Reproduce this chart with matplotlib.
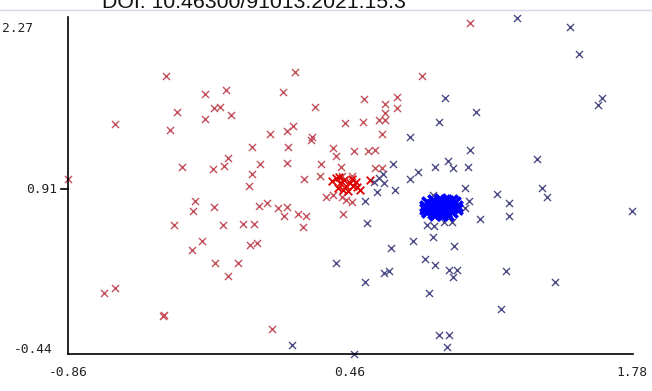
import matplotlib
matplotlib.use("Agg")
import matplotlib.pyplot as plt
from matplotlib.lines import Line2D

# scattered red instances
red_x = [-0.860, -0.640, -0.401, -0.350, -0.383, -0.219, -0.120, -0.177, -0.149, -0.097,
         -0.219, -0.326, -0.181, -0.130, -0.111, 0.001, 0.001, -0.013, 0.039, 0.086,
         0.165, 0.193, 0.146, 0.203, 0.170, 0.165, 0.245, 0.282, 0.278, 0.296,
         0.324, 0.320, 0.381, 0.395, 0.479, 0.544, 0.577, 0.418, 0.577, 0.610,
         0.526, 0.624, 0.680, 0.680, 0.624, 0.624, 0.596, 0.521, 0.437, 0.610,
         0.797, 1.022, 0.423, 0.469, 0.348, 0.381, 0.423, 0.441, 0.469, 0.427,
         0.217, 0.254, 0.240, 0.034, 0.072, 0.123, 0.165, 0.151, 0.011, -0.008,
         0.025, 0.095, -0.266, -0.275, -0.177, -0.364, -0.134, -0.041, -0.233, -0.280,
         -0.172, -0.064, -0.111, -0.692, -0.640, -0.415, -0.411]
red_y = [0.995, 1.460, 1.865, 1.561, 1.409, 1.713, 1.747, 1.595, 1.603, 1.536,
         1.502, 1.097, 1.080, 1.105, 1.173, 1.265, 1.038, 0.936, 1.122, 1.375,
         1.400, 1.443, 1.730, 1.899, 1.265, 1.130, 0.995, 1.350, 1.325, 1.603,
         1.122, 1.021, 1.257, 1.189, 1.232, 1.232, 1.240, 1.097, 1.088, 1.088,
         1.671, 1.628, 1.688, 1.595, 1.553, 1.493, 1.493, 1.477, 1.468, 1.375,
         1.865, 2.312, 1.021, 1.021, 0.843, 0.860, 0.843, 0.818, 0.801, 0.700,
         0.700, 0.683, 0.590, 0.767, 0.793, 0.750, 0.759, 0.683, 0.615, 0.438,
         0.455, -0.271, 0.810, 0.725, 0.759, 0.607, 0.607, 0.615, 0.472, 0.396,
         0.286, 0.286, 0.176, 0.033, 0.075, -0.161, -0.153]

# dense red core
red_core_x = [0.376, 0.395, 0.413, 0.432, 0.441, 0.460, 0.474, 0.488, 0.507, 0.404,
              0.427, 0.451, 0.409, 0.469, 0.493, 0.554]
red_core_y = [0.978, 1.004, 0.962, 0.987, 0.936, 0.962, 0.936, 0.970, 0.902, 0.919,
              0.902, 0.894, 1.012, 0.995, 0.928, 0.987]

# scattered blue instances
blue_x = [1.242, 1.490, 1.532, 0.905, 1.640, 1.621, 1.050, 0.877, 0.741, 1.022,
          1.335, 0.661, 0.858, 0.919, 0.942, 1.012, 0.778, 0.741, 0.615, 0.596,
          0.572, 0.619, 0.586, 0.671, 0.998, 1.148, 1.359, 1.382, 1.017, 1.204,
          1.204, 1.780, 0.530, 0.540, 1.069, 0.998, 0.821, 0.853, 0.900, 0.938,
          0.849, 0.755, 0.947, 0.652, 0.811, 0.858, 0.395, 0.619, 0.643, 0.924,
          0.961, 0.942, 1.190, 1.420, 0.530, 0.830, 1.167, 0.877, 0.924, 0.914,
          0.479, 0.189, 0.849, 0.802]
blue_y = [2.354, 2.279, 2.051, 1.679, 1.679, 1.620, 1.561, 1.477, 1.350, 1.240,
          1.164, 1.122, 1.097, 1.147, 1.088, 1.097, 1.054, 0.995, 1.038, 1.004,
          0.970, 0.962, 0.886, 0.902, 0.919, 0.869, 0.919, 0.843, 0.810, 0.793,
          0.683, 0.725, 0.810, 0.624, 0.658, 0.750, 0.607, 0.598, 0.632, 0.632,
          0.506, 0.472, 0.430, 0.413, 0.320, 0.269, 0.286, 0.202, 0.219, 0.227,
          0.227, 0.168, 0.219, 0.126, 0.126, 0.033, -0.102, -0.322, -0.322, -0.423,
          -0.482, -0.406, 0.860, 0.767]

# dense blue cluster
blob_x = [0.85, 0.88, 0.91, 0.94, 0.82, 0.86, 0.89, 0.92, 0.95,
          0.81, 0.84, 0.87, 0.90, 0.93, 0.96, 0.81, 0.84, 0.88, 0.91, 0.94, 0.96,
          0.82, 0.85, 0.88, 0.91, 0.94, 0.86, 0.89, 0.92]
blob_y = [0.82, 0.825, 0.82, 0.815, 0.80, 0.805, 0.80, 0.81, 0.80,
          0.77, 0.775, 0.77, 0.78, 0.77, 0.77, 0.74, 0.745, 0.74, 0.74, 0.75, 0.74,
          0.715, 0.71, 0.71, 0.715, 0.715, 0.695, 0.69, 0.695]

x_ticks = [-0.86, 0.46, 1.78]
y_ticks = [-0.44, 0.91, 2.27]

W, H = 652, 391
fig = plt.figure(figsize=(W / 100, H / 100), dpi=100)
ax = fig.add_axes([68 / W, (H - 354) / H, (633 - 68) / W, (354 - 17) / H])
ax.set_xlim(-0.86, 1.785)
ax.set_ylim(-0.482, 2.363)

ax.scatter(red_x, red_y, marker="x", s=26, linewidths=1.0, color="#c4505a", clip_on=False)
ax.scatter(red_core_x, red_core_y, marker="x", s=30, linewidths=1.3, color="#e00000", clip_on=False)
ax.scatter(blue_x, blue_y, marker="x", s=26, linewidths=1.0, color="#4c4c86", clip_on=False)
ax.scatter(blob_x, blob_y, marker="x", s=55, linewidths=2.6, color="#0000ff", clip_on=False)

for s in ["top", "right"]:
    ax.spines[s].set_visible(False)
for s in ["left", "bottom"]:
    ax.spines[s].set_linewidth(1.2)
ax.set_xticks([])
ax.set_yticks([])

mono = dict(family="DejaVu Sans Mono", fontsize=9.3, color="#222222")
# y labels
ax.annotate(f"{y_ticks[2]:.2f}", xy=(0, y_ticks[2]), xycoords=("axes fraction", "data"),
            xytext=(-25, 0), textcoords="offset points", ha="right", va="center", **mono)
ax.annotate(f"{y_ticks[1]:.2f}", xy=(0, y_ticks[1]), xycoords=("axes fraction", "data"),
            xytext=(-7.5, 0), textcoords="offset points", ha="right", va="center", **mono)
ax.annotate(f"{y_ticks[0]:.2f}", xy=(0, y_ticks[0]), xycoords=("axes fraction", "data"),
            xytext=(-11, 0), textcoords="offset points", ha="right", va="center", **mono)
ax.plot([-0.86 - 0.035, -0.86], [y_ticks[1], y_ticks[1]], color="black", lw=1.2, clip_on=False)
# x labels
for xv in x_ticks:
    ax.annotate(f"{xv:.2f}", xy=(xv, 0), xycoords=("data", "axes fraction"),
                xytext=(0, -13), textcoords="offset points", ha="center", va="center", **mono)

# header text, partly cut off at the top as in the source image
fig.text(102 / W, 1 - 8 / H, "DOI: 10.46300/91013.2021.15.3", ha="left", va="baseline",
         fontsize=15.3, family="Liberation Sans", color="#111111")
fig.add_artist(Line2D([0, 1], [1 - 10 / H, 1 - 10 / H], transform=fig.transFigure,
                      color="#d4d4ec", lw=1))

fig.savefig("out.png", dpi=100)
